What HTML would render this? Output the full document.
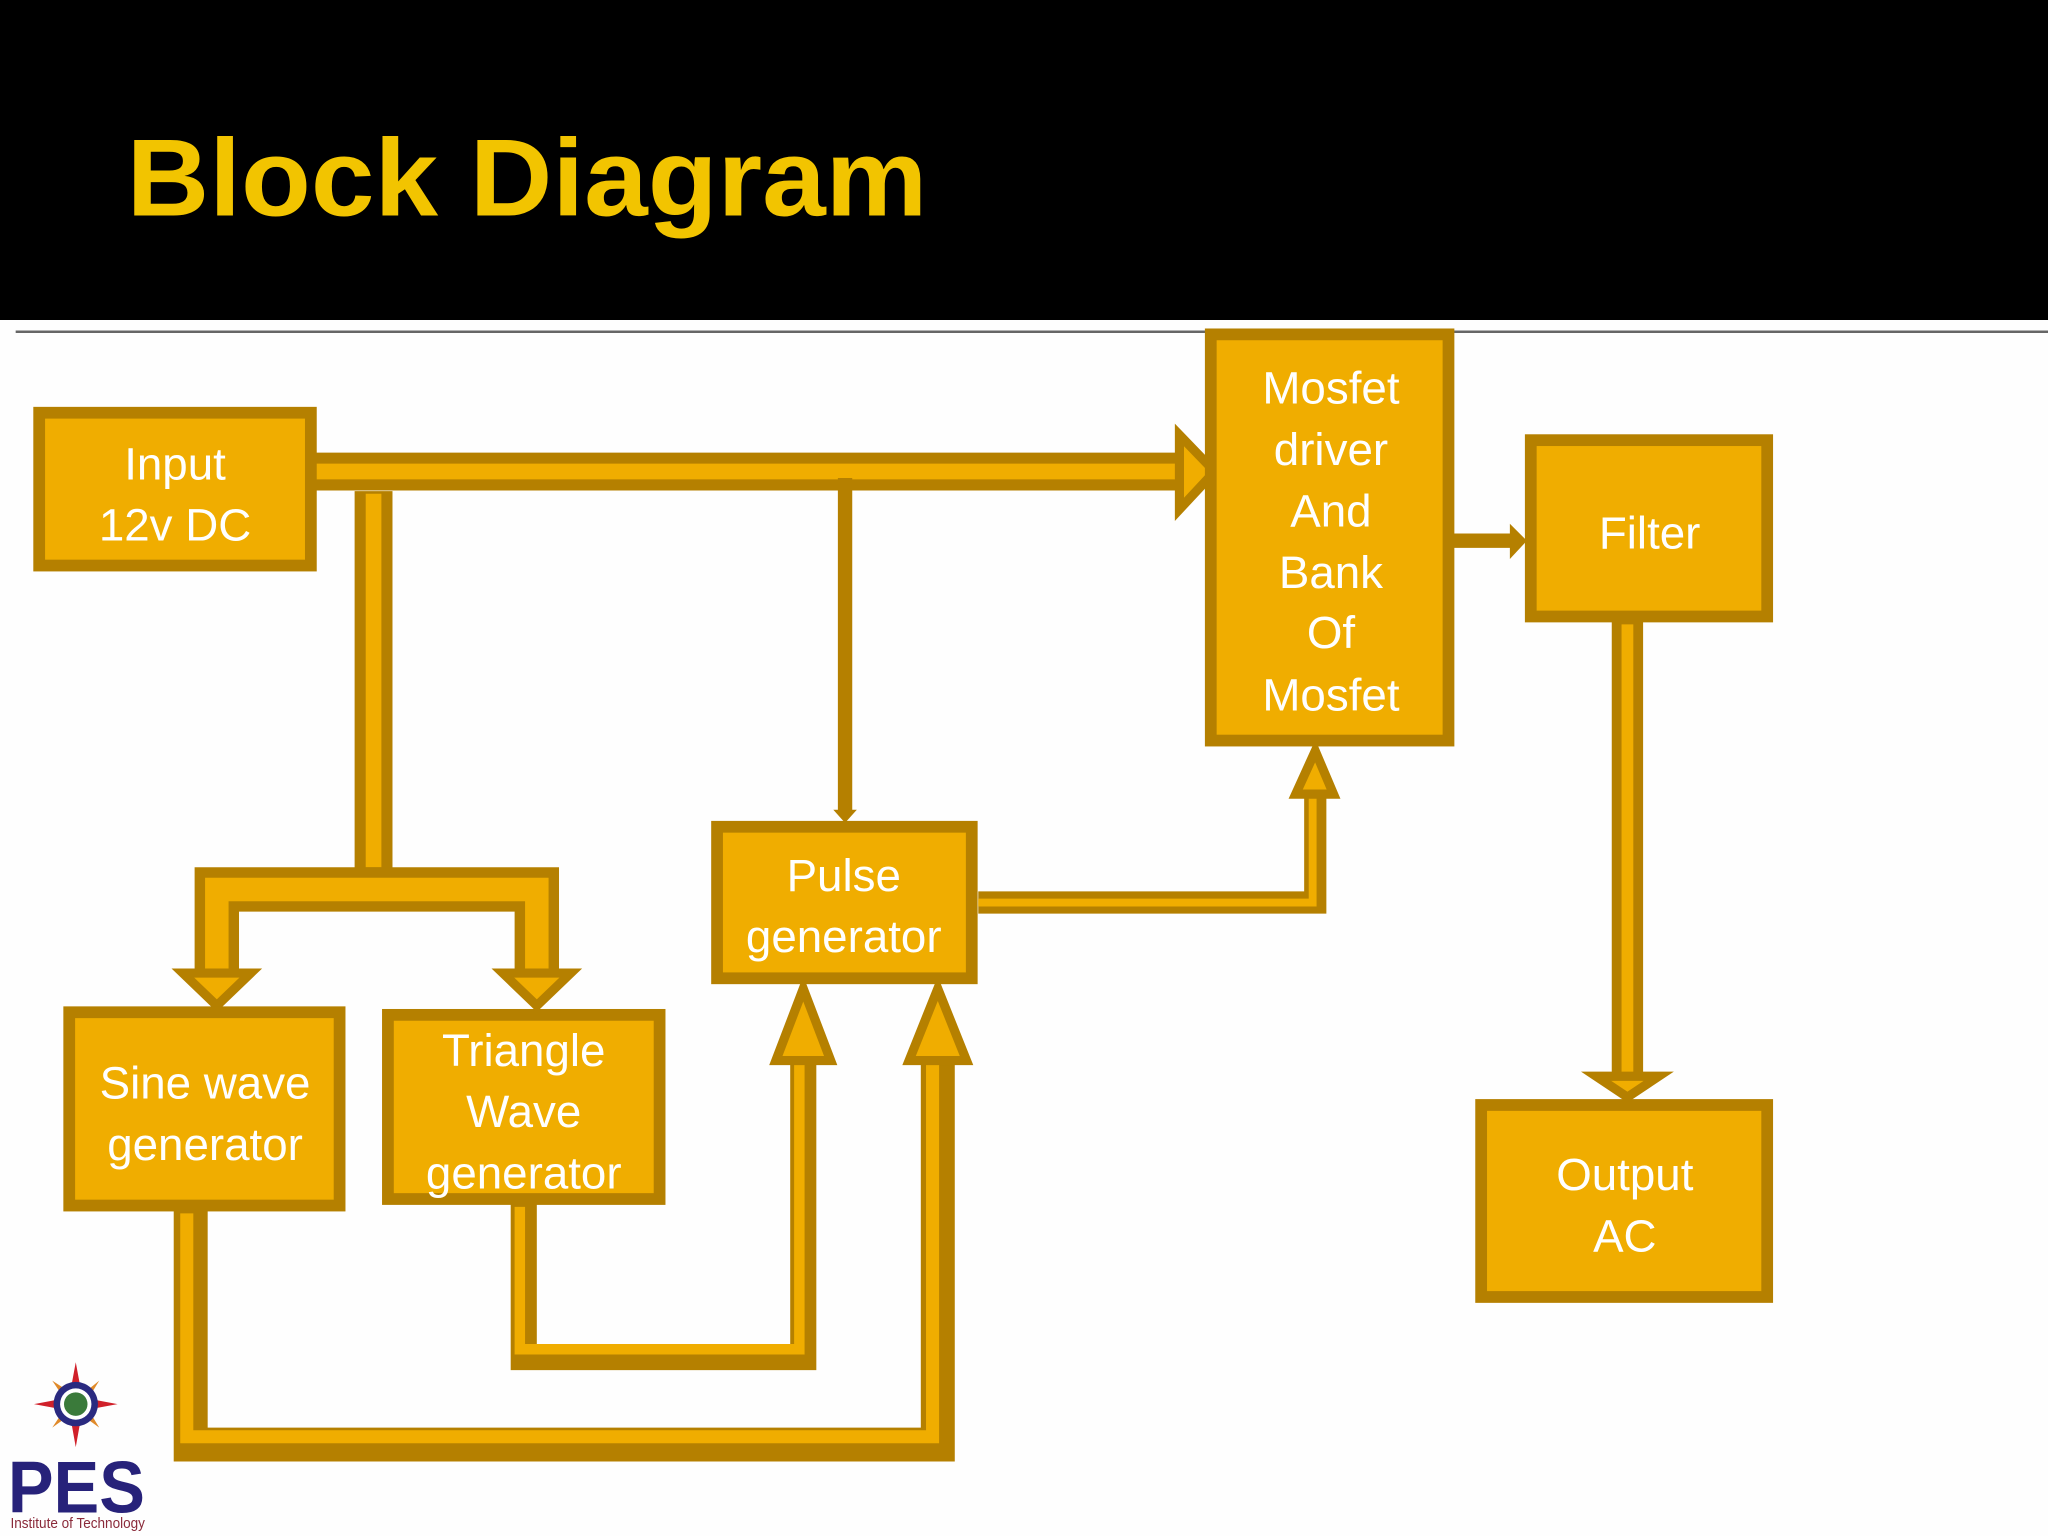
<!DOCTYPE html>
<html><head><meta charset="utf-8"><style>
html,body{margin:0;padding:0;background:#fff}
svg{display:block}
text{font-family:"Liberation Sans",sans-serif}
</style></head><body>
<svg width="2048" height="1536" viewBox="0 0 1568 1176" xmlns="http://www.w3.org/2000/svg">
<rect x="0" y="0" width="1568" height="1176" fill="#fefefe"/>
<rect x="0" y="0" width="1568" height="245" fill="#000"/>
<line x1="12" y1="254" x2="1568" y2="254" stroke="#666" stroke-width="2"/>
<text x="97" y="165" font-size="84" font-weight="bold" fill="#f2c400" textLength="613" lengthAdjust="spacingAndGlyphs">Block Diagram</text>

<g fill="none" stroke-linejoin="miter">
<!-- main bus -->
<polyline points="242,361 910,361" stroke="#b58000" stroke-width="29"/>
<polyline points="242,361 912,361" stroke="#f0ad00" stroke-width="12"/>
<polygon points="903,333 930,361 903,390" fill="#f0ad00" stroke="#b58000" stroke-width="7"/>
<!-- vertical to branch -->
<polyline points="286,376 286,680" stroke="#b58000" stroke-width="29"/>
<polyline points="286,378 286,664" stroke="#f0ad00" stroke-width="12"/>
<!-- branch -->
<polyline points="166,745 166,681 411,681 411,745" stroke="#b58000" stroke-width="34"/>
<polyline points="166,748 166,681 411,681 411,748" stroke="#f0ad00" stroke-width="18"/>
<polygon points="140,745 192,745 166,770" fill="#f0ad00" stroke="#b58000" stroke-width="7"/>
<polygon points="385,745 437,745 411,770" fill="#f0ad00" stroke="#b58000" stroke-width="7"/>
<!-- thin to pulse -->
<line x1="647" y1="366" x2="647" y2="622" stroke="#b58000" stroke-width="11"/>
<polygon points="638,620 656,620 647,630" fill="#b58000"/>
<!-- mosfet to filter -->
<line x1="1113" y1="414" x2="1158" y2="414" stroke="#b58000" stroke-width="11"/>
<polygon points="1156,401 1169,414 1156,428" fill="#b58000"/>
<!-- filter down -->
<polyline points="1246,476 1246,826" stroke="#b58000" stroke-width="24"/>
<polyline points="1246,478 1246,826" stroke="#f0ad00" stroke-width="9"/>
<polygon points="1222,824 1270,824 1246,840" fill="#f0ad00" stroke="#b58000" stroke-width="7"/>
<!-- pulse to mosfet -->
<polyline points="749,691 1007,691 1007,608" stroke="#b58000" stroke-width="17"/>
<polyline points="749,691 1005,691 1005,608" stroke="#f0ad00" stroke-width="6"/>
<polygon points="992,608 1021,608 1007,575" fill="#f0ad00" stroke="#b58000" stroke-width="7"/>
<!-- triangle to pulse -->
<polyline points="401,922 401,1039 615,1039 615,812" stroke="#b58000" stroke-width="20"/>
<polyline points="398,924 398,1033 612,1033 612,812" stroke="#f0ad00" stroke-width="8"/>
<polygon points="594,812 636,812 615,757" fill="#f0ad00" stroke="#b58000" stroke-width="7"/>
<!-- sine to pulse -->
<polyline points="146,927 146,1106 718,1106 718,812" stroke="#b58000" stroke-width="26"/>
<polyline points="143,929 143,1100 714,1100 714,812" stroke="#f0ad00" stroke-width="10"/>
<polygon points="696,812 740,812 718,757" fill="#f0ad00" stroke="#b58000" stroke-width="7"/>
</g>

<g fill="#f0ad00" stroke="#b58000" stroke-width="9">
<rect x="30" y="316" width="208" height="117"/>
<rect x="927" y="256" width="182" height="311"/>
<rect x="1172" y="337" width="181" height="135"/>
<rect x="1134" y="846" width="219" height="147"/>
<rect x="549" y="633" width="195" height="116"/>
<rect x="53" y="775" width="207" height="148"/>
<rect x="297" y="777" width="208" height="141"/>
</g>

<g fill="#fff" font-size="35" text-anchor="middle">
<text x="134" y="367">Input</text>
<text x="134" y="414">12v  DC</text>
<text x="1019" y="309">Mosfet</text>
<text x="1019" y="356">driver</text>
<text x="1019" y="403">And</text>
<text x="1019" y="450">Bank</text>
<text x="1019" y="496">Of</text>
<text x="1019" y="544">Mosfet</text>
<text x="1263" y="420">Filter</text>
<text x="1244" y="911">Output</text>
<text x="1244" y="958">AC</text>
<text x="646" y="682">Pulse</text>
<text x="646" y="729">generator</text>
<text x="157" y="841">Sine wave</text>
<text x="157" y="888">generator</text>
<text x="401" y="816">Triangle</text>
<text x="401" y="863">Wave</text>
<text x="401" y="910">generator</text>
</g>

<!-- PES logo -->
<g>
<polygon points="58,1043 63,1070 90,1075 63,1080 58,1108 53,1080 26,1075 53,1070" fill="#d0202a"/>
<polygon points="40,1057 60,1070 76,1057 65,1075 76,1093 58,1080 40,1093 52,1075" fill="#e08a2a"/>
<circle cx="58" cy="1075" r="17" fill="#2a2a80"/>
<circle cx="58" cy="1075" r="12" fill="#fff"/>
<circle cx="58" cy="1075" r="9" fill="#3a7a3a"/>
<text x="6" y="1158" font-size="56" font-weight="bold" fill="#27227a" textLength="105" lengthAdjust="spacingAndGlyphs">PES</text>
<text x="8" y="1170" font-size="11" fill="#8a2a3a" textLength="103" lengthAdjust="spacingAndGlyphs">Institute of Technology</text>
</g>
</svg>
</body></html>
